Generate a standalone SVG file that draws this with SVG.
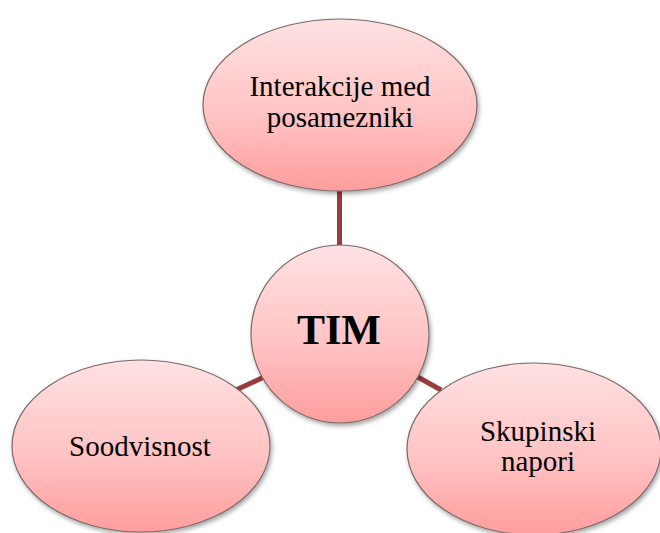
<svg xmlns="http://www.w3.org/2000/svg" width="660" height="533" viewBox="0 0 660 533">
  <defs>
    <linearGradient id="pinkFill" x1="0" y1="0" x2="0" y2="1">
      <stop offset="0" stop-color="#ffe1e3"/>
      <stop offset="0.55" stop-color="#ffc3c3"/>
      <stop offset="1" stop-color="#ff9d9d"/>
    </linearGradient>
    <filter id="softShadow" x="-10%" y="-10%" width="125%" height="125%">
      <feDropShadow dx="1.5" dy="2.5" stdDeviation="2" flood-color="#000" flood-opacity="0.35"/>
    </filter>
    <style>
      .bubble { fill: url(#pinkFill); stroke: #7a6a6a; stroke-width: 1.2; filter: url(#softShadow); }
      .link { stroke: #9b3b3b; stroke-width: 5; fill: none; }
      .label { font-family: "Liberation Serif", "Times New Roman", serif; font-size: 29px; fill: #000; text-anchor: middle; }
      .hub { font-family: "Liberation Serif", "Times New Roman", serif; font-size: 42px; font-weight: bold; fill: #000; text-anchor: middle; }
    </style>
  </defs>

  <rect width="660" height="533" fill="#ffffff"/>

  <!-- spokes from the hub to the outer bubbles -->
  <g id="connectors">
    <line class="link" x1="339.5" y1="188" x2="339.5" y2="248"/>
    <line class="link" x1="236" y1="390" x2="264" y2="377"/>
    <line class="link" x1="416" y1="376" x2="441" y2="390"/>
  </g>

  <g id="node-interakcije">
    <ellipse class="bubble" cx="340" cy="105" rx="137" ry="86"/>
    <text class="label" x="340" y="96">Interakcije med</text>
    <text class="label" x="340" y="127">posamezniki</text>
  </g>

  <g id="node-soodvisnost">
    <ellipse class="bubble" cx="141" cy="446" rx="129" ry="86"/>
    <text class="label" x="140" y="456">Soodvisnost</text>
  </g>

  <g id="node-skupinski">
    <ellipse class="bubble" cx="534" cy="449" rx="127" ry="86"/>
    <text class="label" x="538" y="441">Skupinski</text>
    <text class="label" x="538" y="471">napori</text>
  </g>

  <g id="node-tim">
    <circle class="bubble" cx="340" cy="334" r="89"/>
    <text class="hub" x="339" y="344">TIM</text>
  </g>
</svg>
